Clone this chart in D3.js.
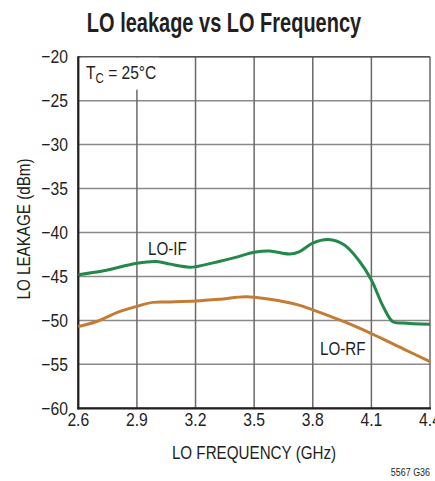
<!DOCTYPE html>
<html><head><meta charset="utf-8">
<script src="https://cdn.jsdelivr.net/npm/d3@7/dist/d3.min.js"></script>
<style>body{margin:0;background:#fff}svg{display:block}text{font-family:"Liberation Sans","Arial",sans-serif;fill:#231f20}</style>
</head><body><svg id="c" width="435" height="481"></svg>
<script>
const xTicks = [2.6, 2.9, 3.2, 3.5, 3.8, 4.1, 4.4];
const xTickLabels = ["2.6", "2.9", "3.2", "3.5", "3.8", "4.1", "4.4"];
const yTicks = [-20, -25, -30, -35, -40, -45, -50, -55, -60];
const yTickLabels = ["\u221220", "\u221225", "\u221230", "\u221235", "\u221240", "\u221245", "\u221250", "\u221255", "\u221260"];
const ifFreq = [2.6, 2.73, 2.9, 3.0, 3.07, 3.17, 3.2, 3.32, 3.41, 3.5, 3.58, 3.68, 3.73, 3.8, 3.88, 3.96, 4.04, 4.1, 4.16, 4.21, 4.26, 4.4];
const ifVals = [-44.8, -44.35, -43.5, -43.3, -43.6, -43.95, -43.9, -43.3, -42.8, -42.25, -42.1, -42.45, -42.2, -41.2, -40.8, -41.4, -43.3, -45.4, -48.4, -50.15, -50.3, -50.45];
const rfFreq = [2.6, 2.69, 2.81, 2.9, 2.98, 3.07, 3.2, 3.32, 3.46, 3.58, 3.72, 3.8, 3.96, 4.1, 4.26, 4.4];
const rfVals = [-50.7, -50.15, -49.0, -48.4, -47.95, -47.9, -47.8, -47.6, -47.3, -47.6, -48.2, -48.8, -50.15, -51.5, -53.2, -54.7];

const svg = d3.select("#c");
const L = 78.3, R = 430, T = 56.7, B = 408.3;
const x = d3.scaleLinear().domain([2.6, 4.4]).range([L, R]);
const y = d3.scaleLinear().domain([-60, -20]).range([B, T]);

function txt(parent, px, py, str, size, anchor, sx, rot) {
  return parent.append("text")
    .attr("transform", `translate(${px},${py})${rot ? " rotate(" + rot + ")" : ""} scale(${sx},1)`)
    .attr("text-anchor", anchor).attr("font-size", size).text(str);
}

// grid
svg.append("g").selectAll("line").data(yTicks).join("line")
  .attr("x1", L).attr("x2", R).attr("y1", d => y(d)).attr("y2", d => y(d))
  .attr("stroke", "#8a8a8a").attr("stroke-width", 1.5);
svg.append("g").selectAll("line").data(xTicks).join("line")
  .attr("y1", T).attr("y2", B).attr("x1", d => x(d)).attr("x2", d => x(d))
  .attr("stroke", "#6a6a6a").attr("stroke-width", 1.5);
svg.append("line").attr("x1", L).attr("x2", R).attr("y1", T).attr("y2", T).attr("stroke", "#555").attr("stroke-width", 1.5);

// T_C label background + text
svg.append("rect").attr("x", 81).attr("y", T + 1).attr("width", 78).attr("height", 32).attr("fill", "#fff");
const tc = txt(svg, 86, 79, "", 19, "start", 0.82);
tc.append("tspan").text("T");
tc.append("tspan").attr("font-size", 14).attr("dy", 4).text("C");
tc.append("tspan").attr("dy", -4).text(" = 25\u00B0C");

// axes
svg.append("line").attr("x1", L).attr("x2", L).attr("y1", T - 0.5).attr("y2", B + 1).attr("stroke", "#231f20").attr("stroke-width", 2.2);
svg.append("line").attr("x1", L - 1).attr("x2", R + 1).attr("y1", B).attr("y2", B).attr("stroke", "#231f20").attr("stroke-width", 2.2);

// curves
const line = d3.line().curve(d3.curveCatmullRom.alpha(0.5));
svg.append("path").attr("d", line(rfFreq.map((f, i) => [x(f), y(rfVals[i])])))
  .attr("fill", "none").attr("stroke", "#c47b34").attr("stroke-width", 3);
svg.append("path").attr("d", line(ifFreq.map((f, i) => [x(f), y(ifVals[i])])))
  .attr("fill", "none").attr("stroke", "#23884a").attr("stroke-width", 3);

// tick labels
const gy = svg.append("g");
yTicks.forEach((d, i) => txt(gy, 68, y(d) + 6.5, yTickLabels[i], 18.5, "end", 0.85));
const gx = svg.append("g");
xTicks.forEach((d, i) => txt(gx, x(d), 426, xTickLabels[i], 18.5, "middle", 0.85));

// axis titles
txt(svg, 254, 459, "LO FREQUENCY (GHz)", 19, "middle", 0.8);
txt(svg, 30, 229, "LO LEAKAGE (dBm)", 19, "middle", 0.8, -90);

// series labels
txt(svg, 148, 255, "LO-IF", 19, "start", 0.8);
txt(svg, 320, 355, "LO-RF", 19, "start", 0.8);

// title
txt(svg, 224, 32, "LO leakage vs LO Frequency", 27, "middle", 0.74).attr("font-weight", "bold");
// footnote
txt(svg, 430, 476, "5567 G36", 10.5, "end", 0.85);
</script></body></html>
